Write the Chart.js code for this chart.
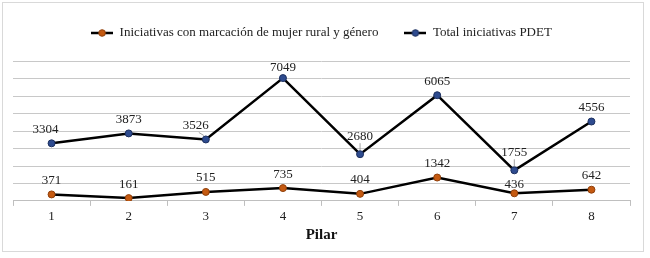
<!DOCTYPE html>
<html>
<head>
<meta charset="utf-8">
<script src="https://cdn.jsdelivr.net/npm/chart.js@4"></script>
<style>
  body { margin: 0; background: #fff; }
  #wrap { position: relative; width: 650px; height: 258px; }
  #frame { position: absolute; left: 2px; top: 2px; width: 640px; height: 248px; border: 1.5px solid #d9d9d9; pointer-events: none; }
</style>
</head>
<body>
<div id="wrap">
  <canvas id="chart" width="650" height="258"></canvas>
  <div id="frame"></div>
</div>
<script>
// categories and series
const pilares = ['1', '2', '3', '4', '5', '6', '7', '8'];
const mujerRural = [371, 161, 515, 735, 404, 1342, 436, 642];
const totalPdet = [3304, 3873, 3526, 7049, 2680, 6065, 1755, 4556];

const serif = "'Liberation Serif', 'Times New Roman', serif";

// legend marker: short black line with a coloured dot
function legendMarker(color, border) {
	const c = document.createElement('canvas');
	c.width = 22;
	c.height = 10;
	const g = c.getContext('2d');
	g.strokeStyle = '#000';
	g.lineWidth = 2.5;
	g.beginPath();
	g.moveTo(0, 5);
	g.lineTo(22, 5);
	g.stroke();
	g.fillStyle = color;
	g.strokeStyle = border;
	g.lineWidth = 1;
	g.beginPath();
	g.arc(11, 5, 3.3, 0, Math.PI * 2);
	g.fill();
	g.stroke();
	return c;
}

// small nudges for a few value labels (dx, dy, leader line)
const labelNudge = [
	[[0, 0], [0, 0], [0, 0], [0, 0], [0, 0], [0, 0], [0, 5], [0, 0]],
	[[-6, 0], [0, 0], [-10, 0, true], [0, 4], [0, -4, true], [0, 0], [0, -4, true], [0, 0]]
];

const valueLabels = {
	id: 'valueLabels',
	afterDatasetsDraw(chart) {
		const ctx = chart.ctx;
		ctx.save();
		ctx.font = '13px ' + serif;
		ctx.fillStyle = '#222';
		ctx.strokeStyle = '#8c8c8c';
		ctx.lineWidth = 0.8;
		ctx.textAlign = 'center';
		ctx.textBaseline = 'middle';
		chart.data.datasets.forEach((ds, i) => {
			chart.getDatasetMeta(i).data.forEach((pt, j) => {
				const n = labelNudge[i][j];
				const lx = pt.x + n[0];
				const ly = pt.y - 14 + n[1];
				ctx.fillText(ds.data[j], lx, ly);
				if (n[2]) {
					// thin leader line from label to point
					ctx.beginPath();
					ctx.moveTo(lx + n[0] * -0.3, ly + 7);
					ctx.lineTo(pt.x - (n[0] ? 2 : 0), pt.y - 4);
					ctx.stroke();
				}
			});
		});
		ctx.restore();
	}
};

// push the plot area down below the legend
const legendGap = {
	id: 'legendGap',
	beforeInit(chart) {
		const fit = chart.legend.fit;
		chart.legend.fit = function () {
			fit.call(this);
			this.height += 12;
		};
	}
};

const markers = [legendMarker('#C55A11', '#8f3f0a'), legendMarker('#2E4B8F', '#1c2f5e')];

const ctx = document.getElementById('chart').getContext('2d');
const chart = new Chart(ctx, {
	type: 'line',
	data: {
		labels: pilares,
		datasets: [{
			label: 'Iniciativas con marcación de mujer rural y género',
			data: mujerRural,
			borderColor: '#000',
			borderWidth: 2.5,
			pointBackgroundColor: '#C55A11',
			pointBorderColor: '#8f3f0a',
			pointBorderWidth: 1,
			pointRadius: 3.5,
			tension: 0
		}, {
			label: 'Total iniciativas PDET',
			data: totalPdet,
			borderColor: '#000',
			borderWidth: 2.5,
			pointBackgroundColor: '#2E4B8F',
			pointBorderColor: '#1c2f5e',
			pointBorderWidth: 1,
			pointRadius: 3.5,
			tension: 0
		}]
	},
	options: {
		responsive: false,
		animation: false,
		layout: { padding: { left: 13, right: 20, top: 0.5, bottom: 15.5 } },
		plugins: {
			tooltip: { enabled: false },
			legend: {
				position: 'top',
				labels: {
					usePointStyle: true,
					pointStyleWidth: 22,
					padding: 26,
					color: '#222',
					font: { family: serif, size: 13 },
					generateLabels(chart) {
						return Chart.defaults.plugins.legend.labels.generateLabels(chart).map((item, i) => {
							item.pointStyle = markers[i];
							return item;
						});
					}
				}
			}
		},
		scales: {
			x: {
				offset: true,
				grid: { offset: true, drawOnChartArea: false, drawTicks: true, tickLength: 5, color: '#bfbfbf' },
				border: { color: '#bfbfbf', width: 1 },
				ticks: { color: '#222', padding: 3, font: { family: serif, size: 13 } },
				title: { display: true, text: 'Pilar', color: '#111', padding: { top: 0, bottom: 0 }, font: { family: serif, size: 15, weight: 'bold', lineHeight: 1 } }
			},
			y: {
				min: 0,
				max: 8000,
				ticks: { stepSize: 1000, display: false },
				grid: { drawTicks: false, color: '#c8c8c8', lineWidth: 1 },
				border: { display: false }
			}
		}
	},
	plugins: [valueLabels, legendGap]
});
</script>
</body>
</html>
